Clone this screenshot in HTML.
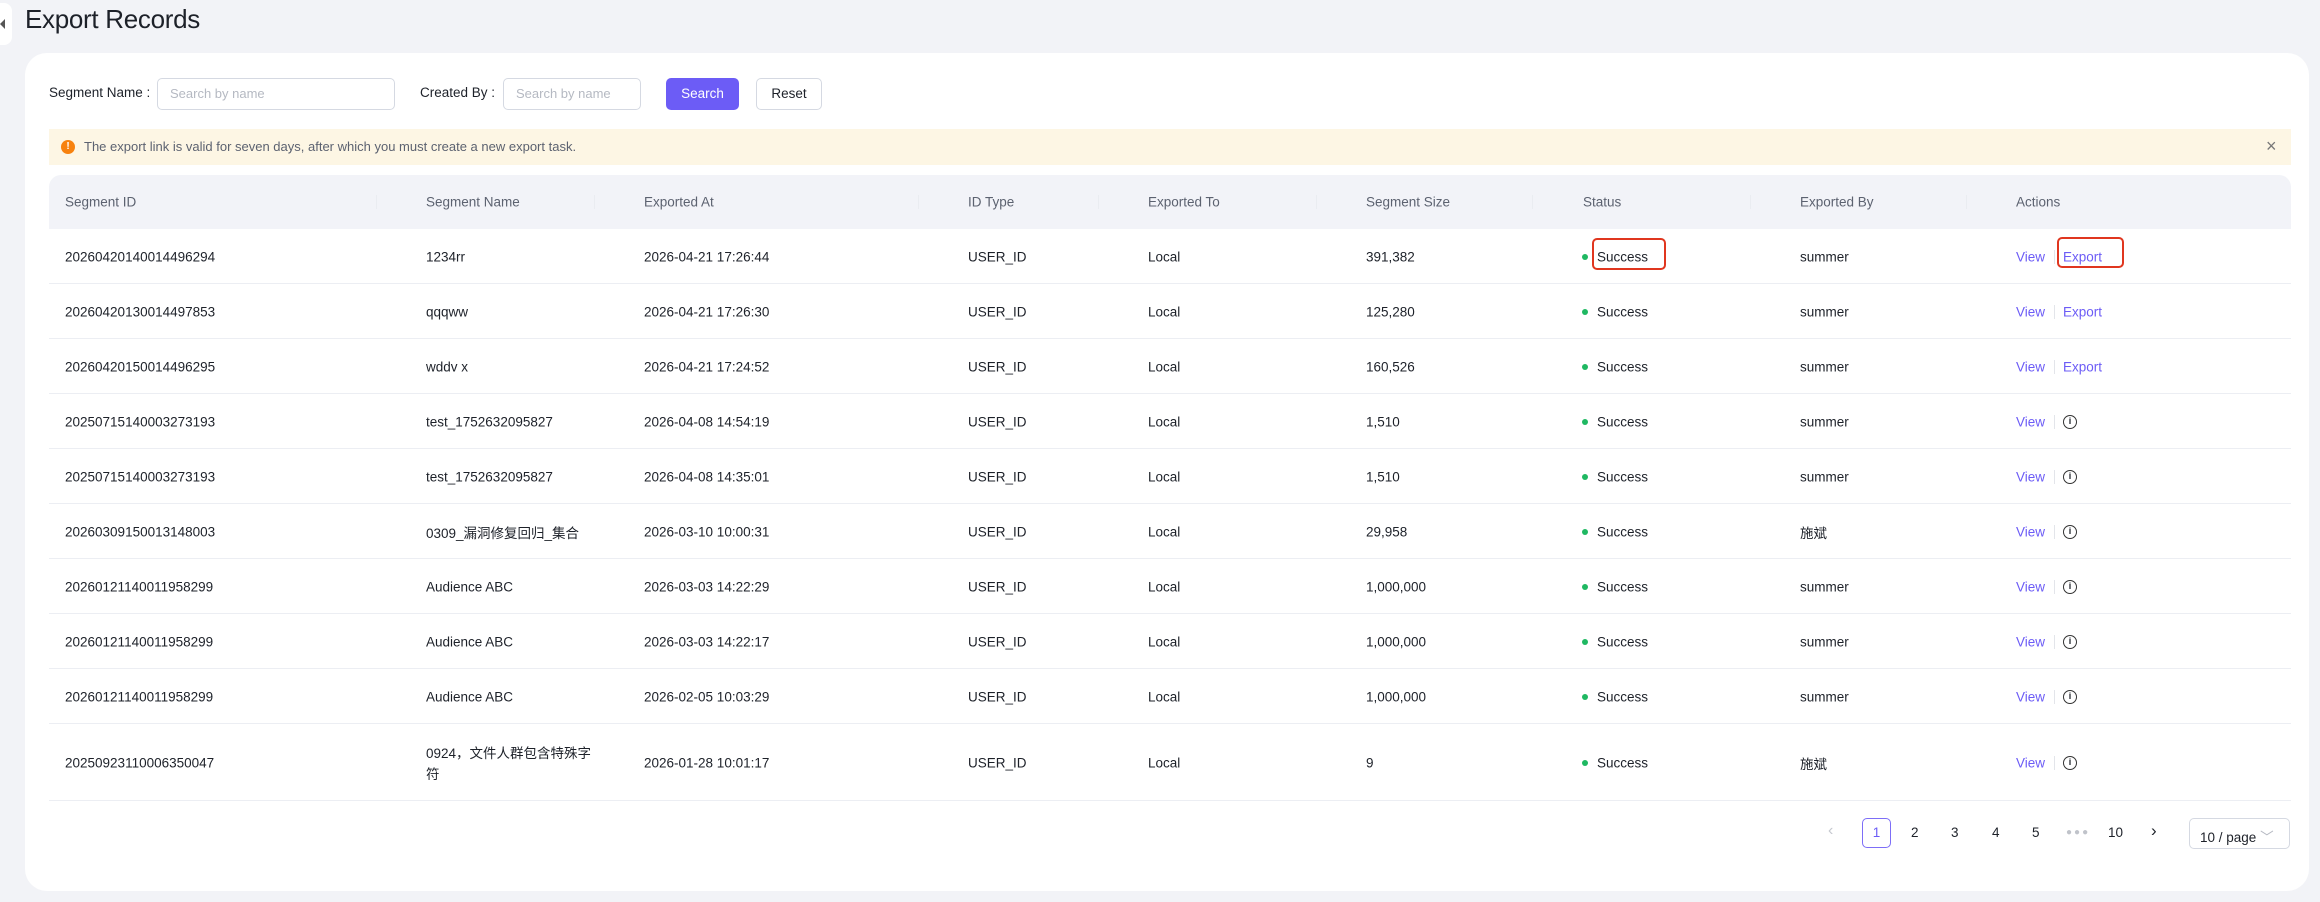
<!DOCTYPE html>
<html><head><meta charset="utf-8">
<style>
*{box-sizing:border-box;margin:0;padding:0}
body{width:2320px;height:902px;background:#f2f3f7;font-family:"Liberation Sans","Noto Sans CJK SC",sans-serif;color:#1d2129;position:relative;overflow:hidden;font-size:13.5px}
.a{position:absolute;white-space:nowrap}
.card{position:absolute;left:25px;top:53px;width:2284px;height:838px;background:#fff;border-radius:22px}
.inp{position:absolute;border:1px solid #d5d9e2;border-radius:5px;height:32px;top:78px;color:#b5b9c2;font-size:13px;padding:7px 12px}
.hdr{position:absolute;left:49px;top:175px;width:2242px;height:54px;background:#f2f3f8;border-radius:12px 12px 0 0}
.row{position:absolute;left:49px;width:2242px;border-bottom:1px solid #eceef3}
.t{position:absolute;transform:translateY(-50%);white-space:nowrap;font-size:13.5px}
.h{color:#5c6270}
.v{color:#6c5cf6}
.sep{position:absolute;width:1px;height:14px;background:#e3e5ea}
</style></head><body>
<div class="a" style="left:0;top:3px;width:12px;height:42px;background:#fff;border-radius:0 8px 8px 0"></div>
<div class="a" style="left:0;top:19px;width:0;height:0;border-top:5px solid transparent;border-bottom:5px solid transparent;border-right:5px solid #555"></div>
<div class="a" style="left:25px;top:4px;font-size:26px;color:#1d2129;letter-spacing:-0.3px">Export Records</div>
<div class="card"></div>
<div class="a" style="left:49px;top:85px;font-size:13.5px">Segment Name :</div>
<div class="inp" style="left:157px;width:238px">Search by name</div>
<div class="a" style="left:420px;top:85px;font-size:13.5px">Created By :</div>
<div class="inp" style="left:503px;width:138px">Search by name</div>
<div class="a" style="left:666px;top:78px;width:73px;height:32px;background:#6c5cf6;border-radius:5px;color:#fff;font-size:13.5px;text-align:center;line-height:32px">Search</div>
<div class="a" style="left:756px;top:78px;width:66px;height:32px;border:1px solid #d5d9e2;border-radius:5px;font-size:13.5px;text-align:center;line-height:30px">Reset</div>
<div class="a" style="left:49px;top:129px;width:2242px;height:36px;background:#fdf6e4"></div>
<div class="a" style="left:61px;top:140px;width:14px;height:14px;border-radius:50%;background:#f7820f;color:#fff;font-size:10px;text-align:center;line-height:14px;font-weight:bold">!</div>
<div class="a" style="left:84px;top:139px;font-size:13px;color:#5c6270">The export link is valid for seven days, after which you must create a new export task.</div>
<div class="a" style="left:2266px;top:136px;font-size:18px;color:#777">×</div>
<div class="hdr"></div>
<div id="tbl"></div>
<script>
const cols=[65,426,644,968,1148,1366,1582,1800,2016];
const hd=["Segment ID","Segment Name","Exported At","ID Type","Exported To","Segment Size","Status","Exported By","Actions"];
let s="";
hd.forEach((h,i)=>{s+=`<div class="t h" style="left:${i==6?1583:cols[i]}px;top:202px">${h}</div>`;if(i>0)s+=`<div class="sep" style="left:${cols[i]-50}px;top:195px;background:#eaecf1"></div>`});
const d=[
["20260420140014496294","1234rr","2026-04-21 17:26:44","391,382","summer",1],
["20260420130014497853","qqqww","2026-04-21 17:26:30","125,280","summer",1],
["20260420150014496295","wddv x","2026-04-21 17:24:52","160,526","summer",1],
["20250715140003273193","test_1752632095827","2026-04-08 14:54:19","1,510","summer",0],
["20250715140003273193","test_1752632095827","2026-04-08 14:35:01","1,510","summer",0],
["20260309150013148003","0309_漏洞修复回归_集合","2026-03-10 10:00:31","29,958","施斌",0],
["20260121140011958299","Audience ABC","2026-03-03 14:22:29","1,000,000","summer",0],
["20260121140011958299","Audience ABC","2026-03-03 14:22:17","1,000,000","summer",0],
["20260121140011958299","Audience ABC","2026-02-05 10:03:29","1,000,000","summer",0],
["20250923110006350047","0924，文件人群包含特殊字<br>符","2026-01-28 10:01:17","9","施斌",0]];
d.forEach((r,i)=>{const top=229+i*55,h=i==9?77:55,c=top+h/2;
s+=`<div class="row" style="top:${top}px;height:${h}px"></div>`;
const nm=i==9?`<div class="a" style="left:426px;top:${c-20}px;line-height:21px;font-size:13.5px;white-space:normal">${r[1]}</div>`:`<div class="t" style="left:426px;top:${c}px">${r[1]}</div>`;
s+=`<div class="t" style="left:65px;top:${c}px">${r[0]}</div>${nm}<div class="t" style="left:644px;top:${c}px">${r[2]}</div><div class="t" style="left:968px;top:${c}px">USER_ID</div><div class="t" style="left:1148px;top:${c}px">Local</div><div class="t" style="left:1366px;top:${c}px">${r[3]}</div>`;
s+=`<div class="a" style="left:1582px;top:${c-3}px;width:6px;height:6px;border-radius:50%;background:#1fb862"></div><div class="t" style="left:1597px;top:${c}px">Success</div><div class="t" style="left:1800px;top:${c}px">${r[4]}</div>`;
s+=`<div class="t v" style="left:2016px;top:${c}px">View</div><div class="sep" style="left:2054px;top:${c-7}px"></div>`;
if(r[5])s+=`<div class="t v" style="left:2063px;top:${c}px">Export</div>`;
else s+=`<div class="a" style="left:2063px;top:${c-7}px;width:14px;height:14px;border:1.3px solid #333;border-radius:50%;font-size:9px;text-align:center;line-height:11px;font-weight:bold">i</div>`;
});
document.getElementById("tbl").innerHTML=s;
</script>
<div class="a" style="left:1592px;top:238px;width:74px;height:32px;border:2.5px solid #e0361f;border-radius:5px"></div>
<div class="a" style="left:2057px;top:237px;width:67px;height:31px;border:2.5px solid #e0361f;border-radius:5px"></div>
<div class="a" style="left:1828px;top:822px;font-size:16px;color:#c5c8cf">‹</div>
<div class="a" style="left:1862px;top:818px;width:29px;height:30px;border:1px solid #7d6ef7;border-radius:5px;color:#6c5cf6;text-align:center;line-height:28px;font-size:13.5px">1</div>
<div class="a" style="left:1911px;top:825px">2</div>
<div class="a" style="left:1951px;top:825px">3</div>
<div class="a" style="left:1992px;top:825px">4</div>
<div class="a" style="left:2032px;top:825px">5</div>
<div class="a" style="left:2066px;top:827px;color:#c0c3ca;font-size:10px;letter-spacing:2px">●●●</div>
<div class="a" style="left:2108px;top:825px">10</div>
<div class="a" style="left:2151px;top:821px;font-size:17px">›</div>
<div class="a" style="left:2189px;top:818px;width:101px;height:31px;border:1px solid #d5d9e2;border-radius:5px;padding:7px 10px;font-size:13.5px">10 / page <span style="color:#b5b9c2">﹀</span></div>
</body></html>
